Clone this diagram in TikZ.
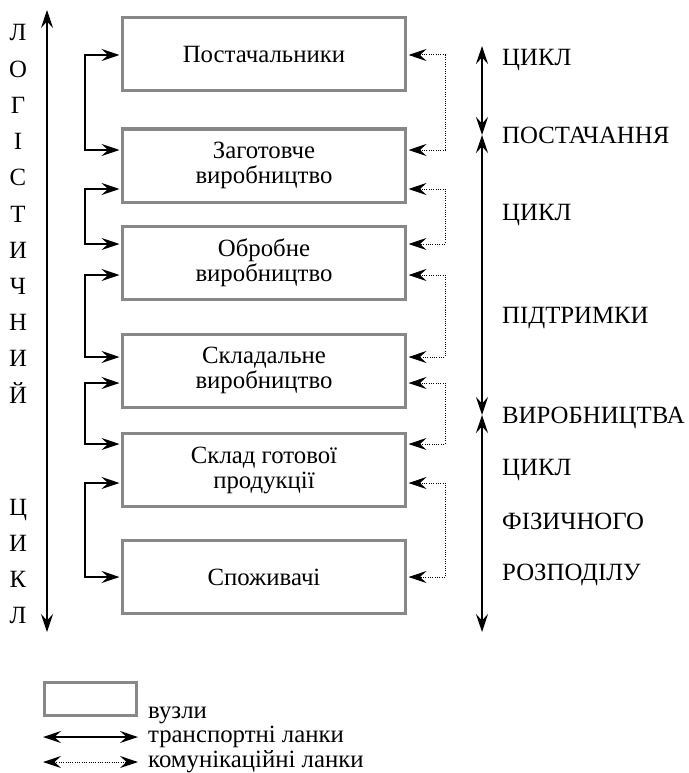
\documentclass[tikz,border=0pt]{standalone}
\usepackage{fontspec}
\setmainfont{Liberation Serif}
\usetikzlibrary{arrows.meta}
\definecolor{boxgray}{RGB}{136,136,136}
\tikzset{Hd/.tip={Stealth[length=18pt,width=12pt,inset=6.5pt]}}
\begin{document}
\begin{tikzpicture}[x=1pt,y=-1pt,
  txt/.style={font=\fontsize{24.8}{25}\selectfont, inner sep=0pt},
  unit/.style={txt, draw=boxgray, line width=3pt, minimum width=283pt,
               minimum height=73pt, align=center},
  tlink/.style={line width=1.5pt, Hd-Hd, shorten >=1.5pt, shorten <=1.5pt},
  clink/.style={line width=1pt, dash pattern=on 1pt off 1.3pt, Hd-Hd,
                shorten >=1.5pt, shorten <=1.5pt},
  span/.style={line width=1.5pt, Hd-Hd},
  lbl/.style={txt, anchor=base west},
  vlet/.style={txt, anchor=base}]
\useasboundingbox (0,0) rectangle (688,773);

% network nodes
\node[unit] (b1) at (264,54.5)  {Постачальники};
\node[unit] (b2) at (264,165.5) {Заготовче\\виробництво};
\node[unit] (b3) at (264,263)   {Обробне\\виробництво};
\node[unit] (b4) at (264,370.5) {Складальне\\виробництво};
\node[unit] (b5) at (264,470)   {Склад готової\\продукції};
\node[unit] (b6) at (264,577)   {Споживачі};

% transport links (left)
\draw[tlink] (b1.west |- 0,55)  -| (85,100) |- (b2.west |- 0,150);
\draw[tlink] (b2.west |- 0,189) -| (85,210) |- (b3.west |- 0,244);
\draw[tlink] (b3.west |- 0,275) -| (85,310) |- (b4.west |- 0,357);
\draw[tlink] (b4.west |- 0,383) -| (85,410) |- (b5.west |- 0,444);
\draw[tlink] (b5.west |- 0,483) -| (85,530) |- (b6.west |- 0,577);

% communication links (right)
\draw[clink] (b1.east |- 0,55)  -| (445,100) |- (b2.east |- 0,150);
\draw[clink] (b2.east |- 0,189) -| (445,210) |- (b3.east |- 0,244);
\draw[clink] (b3.east |- 0,275) -| (445,310) |- (b4.east |- 0,357);
\draw[clink] (b4.east |- 0,383) -| (445,410) |- (b5.east |- 0,444);
\draw[clink] (b5.east |- 0,483) -| (445,530) |- (b6.east |- 0,577);

% logistic cycle (left)
\coordinate (lt) at (47,10);
\coordinate (lb) at (47,632);
\draw[span] (lt) -- (lb);
\foreach \ch [count=\i] in {Л,О,Г,І,С,Т,И,Ч,Н,И,Й}
  \node[vlet] (la\i) at (18,{33+36.2*(\i-1)+8}) {\ch};
\foreach \ch [count=\i] in {Ц,И,К,Л}
  \node[vlet] (lc\i) at (18,{507+36.2*(\i-1)+8}) {\ch};

% partial cycles (right)
\coordinate (r0) at (482,46);
\coordinate (r1) at (482,135);
\coordinate (r2) at (482,415);
\coordinate (r3) at (482,632);
\draw[span] (r0) -- (r1);
\draw[span] (r1) -- (r2);
\draw[span] (r2) -- (r3);
\node[lbl] (c1) at (502,66)  {ЦИКЛ};
\node[lbl] (c2) at (502,143) {ПОСТАЧАННЯ};
\node[lbl] (c3) at (502,220) {ЦИКЛ};
\node[lbl] (c4) at (502,323) {ПІДТРИМКИ};
\node[lbl] (c5) at (502,423) {ВИРОБНИЦТВА};
\node[lbl] (c6) at (502,475) {ЦИКЛ};
\node[lbl] (c7) at (502,529) {ФІЗИЧНОГО};
\node[lbl] (c8) at (502,580) {РОЗПОДІЛУ};

% legend
\node[draw=boxgray, line width=3pt, minimum width=92pt, minimum height=33pt,
      inner sep=0pt] (k1) at (90.5,698.5) {};
\node[lbl] (k1t) at (148,718.5) {вузли};
\coordinate (k2a) at (43,737);
\coordinate (k2b) at (138,737);
\draw[span] (k2a) -- (k2b);
\node[lbl] (k2t) at (148,742.5) {транспортні ланки};
\coordinate (k3a) at (43,762);
\coordinate (k3b) at (138,762);
\draw[clink, shorten >=0pt, shorten <=0pt] (k3a) -- (k3b);
\node[lbl] (k3t) at (148,767) {комунікаційні ланки};
\end{tikzpicture}
\end{document}
